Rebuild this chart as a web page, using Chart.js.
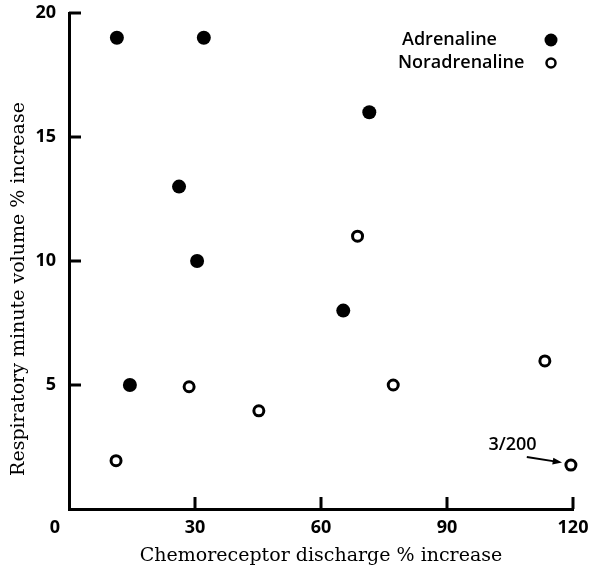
<!DOCTYPE html>
<html>
<head>
<meta charset="utf-8">
<script src="https://cdn.jsdelivr.net/npm/chart.js@4.4.1/dist/chart.umd.min.js"></script>
<style>
  html, body { margin: 0; padding: 0; background: #fff; }
  #wrap { width: 589px; height: 570px; }
</style>
</head>
<body>
<div id="wrap"><canvas id="myChart" width="589" height="570"></canvas></div>
<script>
// values
let adrenalineX = [11.4, 32.1, 26.2, 30.5, 14.5, 65.3, 71.5];
let adrenalineY = [19, 19, 13, 10, 5, 8, 16];
let noradrenalineX = [11.2, 28.6, 45.2, 68.7, 77.2, 113.3, 119.5];
let noradrenalineY = [1.95, 4.93, 3.96, 11.0, 5.0, 5.97, 1.77];

let xTicks = [0, 30, 60, 90, 120];
let yTicks = [5, 10, 15, 20];

let seriesNames = ['Adrenaline', 'Noradrenaline'];
let xTitle = 'Chemoreceptor discharge % increase';
let yTitle = 'Respiratory minute volume % increase';
let noteText = '3/200';

function toPoints(xs, ys) {
  return xs.map((x, i) => ({ x: x, y: ys[i] }));
}

const tickFont = 'bold 18px "Open Sans"';
const titleFont = '19px "DejaVu Serif"';
const labelFont = '600 18px "Open Sans"';

// inward ticks, titles, legend and the 3/200 note
const decor = {
  id: 'decor',
  afterDraw(chart) {
    const ctx = chart.ctx;
    const xs = chart.scales.x;
    const ys = chart.scales.y;
    const area = chart.chartArea;
    ctx.save();
    ctx.strokeStyle = '#000';
    ctx.fillStyle = '#000';
    ctx.lineWidth = 3;

    yTicks.forEach(v => {
      const py = ys.getPixelForValue(v);
      ctx.beginPath();
      ctx.moveTo(area.left, py);
      ctx.lineTo(area.left + 12, py);
      ctx.stroke();
    });
    xTicks.slice(1).forEach(v => {
      const px = xs.getPixelForValue(v);
      ctx.beginPath();
      ctx.moveTo(px, area.bottom);
      ctx.lineTo(px, area.bottom - 12);
      ctx.stroke();
    });

    // the lone "0" sits left of the corner
    ctx.font = tickFont;
    ctx.textAlign = 'center';
    ctx.textBaseline = 'middle';
    ctx.fillText('0', area.left - 14, area.bottom + 19);

    // axis titles
    ctx.font = titleFont;
    ctx.textBaseline = 'alphabetic';
    ctx.fillText(xTitle, (area.left + area.right) / 2, 561);
    ctx.save();
    ctx.translate(24, 289);
    ctx.rotate(-Math.PI / 2);
    ctx.fillText(yTitle, 0, 0);
    ctx.restore();

    // legend
    ctx.font = labelFont;
    ctx.textAlign = 'left';
    ctx.textBaseline = 'middle';
    ctx.fillText(seriesNames[0], 402, 40);
    ctx.fillText(seriesNames[1], 398, 63);
    ctx.beginPath();
    ctx.arc(551, 40, 6.5, 0, Math.PI * 2);
    ctx.fill();
    ctx.beginPath();
    ctx.lineWidth = 2.5;
    ctx.arc(551, 63, 4.5, 0, Math.PI * 2);
    ctx.stroke();

    // note with arrow
    ctx.font = labelFont;
    ctx.textAlign = 'center';
    ctx.fillText(noteText, xs.getPixelForValue(105.6), ys.getPixelForValue(2.58));
    const x1 = xs.getPixelForValue(109), y1 = ys.getPixelForValue(2.1);
    const x2 = xs.getPixelForValue(117.4), y2 = ys.getPixelForValue(1.87);
    ctx.lineWidth = 2;
    ctx.beginPath();
    ctx.moveTo(x1, y1);
    ctx.lineTo(x2 - 6, y2 - 1);
    ctx.stroke();
    const ang = Math.atan2(y2 - y1, x2 - x1);
    ctx.beginPath();
    ctx.moveTo(x2, y2);
    ctx.lineTo(x2 - 10 * Math.cos(ang - 0.35), y2 - 10 * Math.sin(ang - 0.35));
    ctx.lineTo(x2 - 10 * Math.cos(ang + 0.35), y2 - 10 * Math.sin(ang + 0.35));
    ctx.closePath();
    ctx.fill();

    ctx.restore();
  }
};

let ctx = document.getElementById('myChart').getContext('2d');
let myChart = new Chart(ctx, {
  type: 'scatter',
  data: {
    datasets: [{
      label: seriesNames[0],
      data: toPoints(adrenalineX, adrenalineY),
      pointRadius: 7,
      pointBackgroundColor: '#000',
      pointBorderWidth: 0,
      clip: false
    }, {
      label: seriesNames[1],
      data: toPoints(noradrenalineX, noradrenalineY),
      pointRadius: 5,
      pointBackgroundColor: '#fff',
      pointBorderColor: '#000',
      pointBorderWidth: 3,
      clip: false
    }]
  },
  options: {
    animation: false,
    responsive: false,
    events: [],
    layout: { padding: { top: 13, right: 16, left: 0, bottom: 0 } },
    plugins: {
      legend: { display: false },
      tooltip: { enabled: false }
    },
    scales: {
      x: {
        type: 'linear',
        min: 0,
        max: 120,
        afterBuildTicks: s => { s.ticks = xTicks.map(v => ({ value: v })); },
        afterFit: s => { s.height = 61; s.paddingLeft = 0; s.paddingRight = 0; },
        grid: { display: false, drawTicks: false },
        border: { display: true, color: '#000', width: 3 },
        ticks: {
          color: '#000',
          font: { family: 'Open Sans', size: 18, weight: 'bold' },
          padding: 8,
          maxRotation: 0,
          callback: v => v === 0 ? '' : String(v)
        }
      },
      y: {
        type: 'linear',
        min: 0,
        max: 20,
        afterBuildTicks: s => { s.ticks = yTicks.map(v => ({ value: v })); },
        afterFit: s => { s.width = 69; s.paddingTop = 0; s.paddingBottom = 0; },
        grid: { display: false, drawTicks: false },
        border: { display: true, color: '#000', width: 3 },
        ticks: {
          color: '#000',
          font: { family: 'Open Sans', size: 18, weight: 'bold' },
          padding: 13
        }
      }
    }
  },
  plugins: [decor]
});
</script>
</body>
</html>
